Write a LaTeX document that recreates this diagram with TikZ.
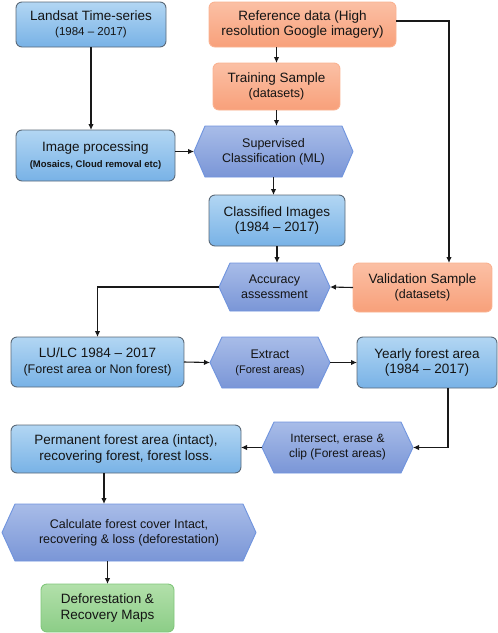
\documentclass[tikz,border=0pt]{standalone}
\usepackage{fontspec}
\setmainfont{Liberation Sans}
\usetikzlibrary{arrows.meta,backgrounds,calc}
\definecolor{bluetop}{RGB}{178,214,243}
\definecolor{bluebot}{RGB}{120,178,230}
\definecolor{blueline}{RGB}{90,105,120}
\definecolor{orgtop}{RGB}{251,192,165}
\definecolor{orgbot}{RGB}{248,160,122}
\definecolor{orgline}{RGB}{250,178,145}
\definecolor{hextop}{RGB}{168,188,232}
\definecolor{hexbot}{RGB}{122,150,215}
\definecolor{hexline}{RGB}{112,148,222}
\definecolor{grntop}{RGB}{178,224,170}
\definecolor{grnbot}{RGB}{140,205,135}
\definecolor{grnline}{RGB}{128,198,122}
\definecolor{txt}{RGB}{20,20,20}
\definecolor{conn}{RGB}{25,25,25}
\newcommand\fmain{\fontsize{13.5}{15.5}\selectfont}
\newcommand\fsubA{\fontsize{12.5}{15}\selectfont}
\newcommand\fsubB{\fontsize{11.5}{14}\selectfont}
\newcommand\fbold{\fontsize{9.5}{14}\selectfont\bfseries}
\newcommand\hexpath[2]{\path[hexfill] (#1.west) -- ([xshift=#2]#1.north west) -- ([xshift=-#2]#1.north east) -- (#1.east) -- ([xshift=-#2]#1.south east) -- ([xshift=#2]#1.south west) -- cycle;}
\begin{document}
\begin{tikzpicture}[x=1pt,y=-1pt,
  base/.style={outer sep=0pt, inner sep=0pt, align=center, text=txt, font=\fmain},
  bluebox/.style={base, draw=blueline, line width=0.9pt, rounded corners=6pt, top color=bluetop, bottom color=bluebot},
  orgbox/.style={base, draw=orgline, line width=0.9pt, rounded corners=6pt, top color=orgtop, bottom color=orgbot},
  grnbox/.style={base, draw=grnline, line width=0.9pt, rounded corners=6pt, top color=grntop, bottom color=grnbot},
  hexnode/.style={base, font=\fsubA},
  hexfill/.style={draw=hexline, line width=0.9pt, top color=hextop, bottom color=hexbot},
  arr/.style={draw=conn, line width=1.1pt, -{Latex[length=6pt,width=5.5pt]}}]
\useasboundingbox (0,0) rectangle (498,633);
% nodes
\node[bluebox, minimum width=150pt, minimum height=45pt] (land) at (91,24.5) {Landsat Time-series\\{\fsubB (1984 – 2017)}};
\node[orgbox, minimum width=187pt, minimum height=45pt] (ref) at (302.5,24.5) {Reference data (High\\resolution Google imagery)};
\node[orgbox, minimum width=127pt, minimum height=47pt] (train) at (276.5,86.5) {Training Sample\\{\fsubA (datasets)}};
\node[bluebox, minimum width=159pt, minimum height=51pt] (imgp) at (95.5,155.5) {Image processing\\{\fbold (Mosaics, Cloud removal etc)}};
\node[hexnode, minimum width=159pt, minimum height=51pt] (sup) at (273.5,151.5) {Supervised\\Classification (ML)};
\node[bluebox, minimum width=136pt, minimum height=51pt] (cls) at (277,220.5) {Classified Images\\(1984 – 2017)};
\node[hexnode, minimum width=111pt, minimum height=48pt] (acc) at (274.5,287) {Accuracy\\assessment};
\node[orgbox, minimum width=139pt, minimum height=49pt] (val) at (422.5,287.5) {Validation Sample\\{\fsubA (datasets)}};
\node[bluebox, minimum width=173pt, minimum height=50pt] (lulc) at (97.5,362) {LU/LC 1984 – 2017\\{\fsubA (Forest area or Non forest)}};
\node[hexnode, minimum width=120pt, minimum height=51pt] (ext) at (270,362.5) {Extract\\{\fontsize{11}{14}\selectfont (Forest areas)}};
\node[bluebox, minimum width=140pt, minimum height=51pt] (year) at (427,362.5) {Yearly forest area\\(1984 – 2017)};
\node[bluebox, minimum width=230pt, minimum height=48pt] (perm) at (126,449) {Permanent forest area (intact),\\recovering forest, forest loss.};
\node[hexnode, minimum width=151pt, minimum height=51pt, font=\fontsize{12}{15}\selectfont] (inter) at (337.5,447.5) {Intersect, erase \&\\clip (Forest areas)};
\node[hexnode, minimum width=254pt, minimum height=57pt] (calc) at (129,532.5) {Calculate forest cover Intact,\\recovering \& loss (deforestation)};
\node[grnbox, minimum width=133pt, minimum height=48pt] (def) at (107.5,608) {Deforestation \&\\Recovery Maps};
% hexagon outlines
\begin{scope}[on background layer]
\hexpath{sup}{11}
\hexpath{acc}{11}
\hexpath{ext}{12}
\hexpath{inter}{12}
\hexpath{calc}{13}
\end{scope}
% connectors
\draw[arr] (land.south) -- (land.south |- imgp.north);
\draw[arr] (train.north |- ref.south) -- (train.north);
\draw[arr] (train.south) -- (train.south |- sup.north);
\draw[arr] (imgp.east |- sup.west) -- (sup.west);
\draw[arr] ([yshift=3.5pt]ref.east) -| ([xshift=26.5pt]val.north);
\draw[arr] (sup.south) -- (sup.south |- cls.north);
\draw[arr] (cls.south) -- (cls.south |- acc.north);
\draw[arr] (val.west) -- (acc.east);
\draw[arr] (acc.west) -| (lulc.north);
\draw[arr] (lulc.east) -- (ext.west);
\draw[arr] (ext.east) -- (year.west);
\draw[arr] ([xshift=21pt]year.south) |- (inter.east);
\draw[arr] (inter.west) -- (perm.east |- inter.west);
\draw[arr] ([xshift=-22pt]perm.south) -- ([xshift=-22pt]perm.south |- calc.north);
\draw[arr] (def.north |- calc.south) -- (def.north);
\end{tikzpicture}
\end{document}
